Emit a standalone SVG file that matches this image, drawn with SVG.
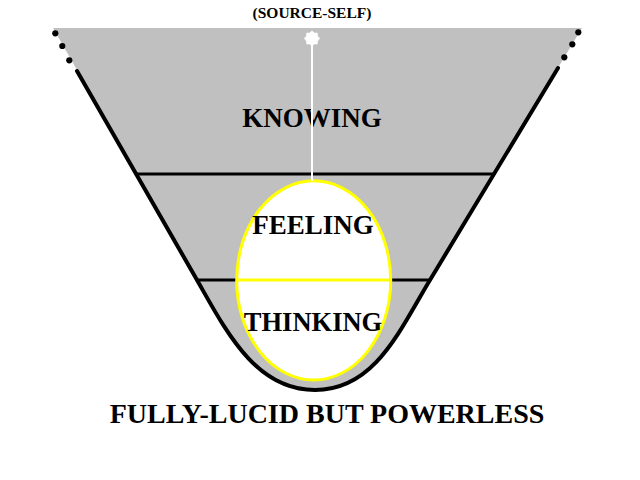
<svg xmlns="http://www.w3.org/2000/svg" width="640" height="480" viewBox="0 0 640 480">
  <style>
    .lbl { font-family: "Liberation Serif", "Times New Roman", serif; font-weight: bold; fill: #000; text-anchor: middle; }
    .edge { fill: none; stroke: #000; stroke-width: 4; stroke-linecap: round; }
    .band { stroke: #000; stroke-width: 3; }
    .dot { fill: #000; }
  </style>
  <rect x="0" y="0" width="640" height="480" fill="#fff"/>
  <g id="funnel">
    <path d="M53,28 L582,28 L430,280 C399.8,330 375,390 315,390 C255,390 225.6,330 197,280 Z" fill="#c0c0c0"/>
    <path class="edge" d="M77,71 L197,280 C225.6,330 255,390 315,390 C375,390 399.8,330 430,280 L558,68"/>
    <circle class="dot" cx="55.3" cy="33.3" r="3.1"/>
    <circle class="dot" cx="62.3" cy="46" r="3.1"/>
    <circle class="dot" cx="69.3" cy="60.3" r="3.1"/>
    <circle class="dot" cx="578.3" cy="32.3" r="3.1"/>
    <circle class="dot" cx="572.3" cy="44.3" r="3.1"/>
    <circle class="dot" cx="564.3" cy="57.3" r="3.1"/>
    <line class="band" x1="135" y1="174" x2="493" y2="174"/>
    <line class="band" x1="197" y1="280" x2="430" y2="280"/>
  </g>
  <g id="self-egg">
    <ellipse cx="313.7" cy="280.4" rx="77" ry="99.6" fill="#fff" stroke="#ffff00" stroke-width="3"/>
    <line x1="237" y1="280" x2="390.5" y2="280" stroke="#ffff00" stroke-width="3"/>
  </g>
  <g id="source-self">
    <text class="lbl" x="312" y="18" font-size="15.5">(SOURCE-SELF)</text>
  </g>
  <g id="knowing">
    <text class="lbl" x="312" y="127" font-size="27">KNOWING</text>
  </g>
  <g id="feeling">
    <text class="lbl" x="313" y="234" font-size="27">FEELING</text>
  </g>
  <g id="thinking">
    <text class="lbl" x="313" y="331" font-size="26.5">THINKING</text>
  </g>
  <g id="caption">
    <text class="lbl" x="327" y="423" font-size="28">FULLY-LUCID BUT POWERLESS</text>
  </g>
  <g id="connectors">
    <line x1="312" y1="44" x2="312" y2="181" stroke="#fff" stroke-width="2"/>
  </g>
  <g id="source-star">
    <polygon fill="#fff" points="320,38.5 317.82,40.91 317.66,44.16 314.41,44.32 312,46.5 309.59,44.32 306.34,44.16 306.18,40.91 304,38.5 306.18,36.09 306.34,32.84 309.59,32.68 312,30.5 314.41,32.68 317.66,32.84 317.82,36.09"/>
  </g>
</svg>
